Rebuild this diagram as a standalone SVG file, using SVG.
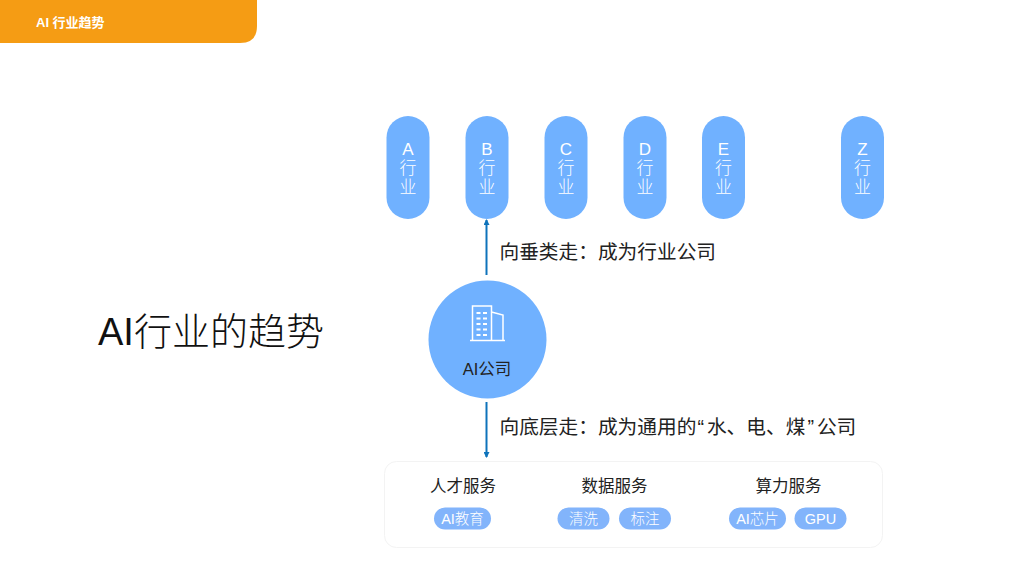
<svg xmlns="http://www.w3.org/2000/svg" width="1024" height="576" viewBox="0 0 1024 576">
<style>
text{font-family:"Liberation Sans","Noto Sans CJK SC",sans-serif;text-anchor:middle}
.p{fill:#70b1ff}
.v{font-size:17px;fill:#fff;font-weight:300}
.l{font-size:19.700px;fill:#222;text-anchor:start;font-weight:400}
.h{font-size:16.500px;fill:#222}
.t{fill:#82b4fb}
.s{font-size:14.500px;fill:#fff;font-weight:300}
.c{stroke:#0e73bb;stroke-width:2;fill:none}
.i{stroke:#fff;stroke-width:1.500;fill:none}
</style>
<defs>
<marker id="a" markerWidth="6" markerHeight="6" refX="5" refY="3" orient="auto" markerUnits="userSpaceOnUse"><path d="M0 0L6 3L0 6z" fill="#0e73bb"/></marker>
</defs>
<g id="header"><path d="M0 0H257V26Q257 43 240 43H0z" fill="#f59c14"/><text x="36" y="27" style="text-anchor:start;font-size:13px;font-weight:700;fill:#fff">AI 行业趋势</text></g>
<g id="title"><text x="98" y="345" style="text-anchor:start;font-size:38px;fill:#111;font-weight:300">AI行业的趋势</text></g>
<g id="a-ind"><rect class="p" x="386.500" y="116" width="43" height="103" rx="21.500"/><text class="v"><tspan x="408" y="155">A</tspan><tspan x="408" y="174">行</tspan><tspan x="408" y="193">业</tspan></text></g>
<g id="b-ind"><rect class="p" x="465.500" y="116" width="43" height="103" rx="21.500"/><text class="v"><tspan x="487" y="155">B</tspan><tspan x="487" y="174">行</tspan><tspan x="487" y="193">业</tspan></text></g>
<g id="c-ind"><rect class="p" x="544.500" y="116" width="43" height="103" rx="21.500"/><text class="v"><tspan x="566" y="155">C</tspan><tspan x="566" y="174">行</tspan><tspan x="566" y="193">业</tspan></text></g>
<g id="d-ind"><rect class="p" x="623.500" y="116" width="43" height="103" rx="21.500"/><text class="v"><tspan x="645" y="155">D</tspan><tspan x="645" y="174">行</tspan><tspan x="645" y="193">业</tspan></text></g>
<g id="e-ind"><rect class="p" x="702" y="116" width="43" height="103" rx="21.500"/><text class="v"><tspan x="723.500" y="155">E</tspan><tspan x="723.500" y="174">行</tspan><tspan x="723.500" y="193">业</tspan></text></g>
<g id="z-ind"><rect class="p" x="841" y="116" width="43" height="103" rx="21.500"/><text class="v"><tspan x="862.500" y="155">Z</tspan><tspan x="862.500" y="174">行</tspan><tspan x="862.500" y="193">业</tspan></text></g>
<g id="connectors"><path class="c" d="M486.500 275V220" marker-end="url(#a)"/><path class="c" d="M486.500 402V457" marker-end="url(#a)"/></g>
<g id="label-up"><text class="l" x="499.500" y="259">向垂类走：成为行业公司</text></g>
<g id="label-down"><text class="l" x="499.500" y="434">向底层走：成为通用的<tspan dx="1">“</tspan><tspan dx="3">水、电、煤</tspan><tspan dx="2">”</tspan><tspan dx="3">公司</tspan></text></g>
<g id="ai-company"><circle class="p" cx="487.500" cy="339.500" r="59"/>
<path class="i" d="M470 340.500H505M472.500 340V306H491.500V340M491.500 312L503 315V340"/>
<path d="M476.500 313h11M476.500 318.500h11M476.500 324h11M476.500 329.500h11M476.500 335h11" stroke="#fff" stroke-width="2" stroke-dasharray="4 2.500" fill="none"/>
<text x="487" y="374.500" style="font-size:16.500px;fill:#222">AI公司</text></g>
<g id="services"><rect x="384.500" y="461.500" width="498" height="86" rx="12" fill="#fff" stroke="#f3f3f3"/></g>
<g id="talent"><text class="h" x="463" y="491.500">人才服务</text><rect class="t" x="434" y="507.500" width="57" height="22" rx="11"/><text class="s" x="462.500" y="523.500">AI教育</text></g>
<g id="data"><text class="h" x="614.500" y="491.500">数据服务</text><rect class="t" x="557.500" y="507.500" width="52" height="22" rx="11"/><text class="s" x="583.500" y="523.500">清洗</text><rect class="t" x="619" y="507.500" width="52" height="22" rx="11"/><text class="s" x="645" y="523.500">标注</text></g>
<g id="compute"><text class="h" x="788.500" y="491.500">算力服务</text><rect class="t" x="729" y="507.500" width="57" height="22" rx="11"/><text class="s" x="757.500" y="523.500">AI芯片</text><rect class="t" x="794.500" y="507.500" width="52" height="22" rx="11"/><text class="s" x="820.500" y="523.500">GPU</text></g>
</svg>
